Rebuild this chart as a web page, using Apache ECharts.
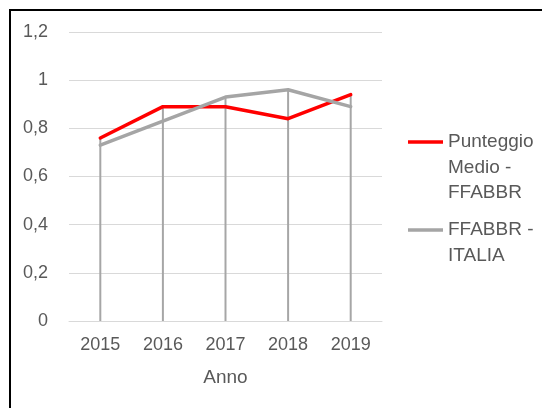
<!DOCTYPE html>
<html>
<head>
<meta charset="utf-8">
<script src="https://cdn.jsdelivr.net/npm/echarts@6/dist/echarts.min.js"></script>
<style>
html,body{margin:0;padding:0;background:#fff;}
#chart{width:542px;height:408px;}
</style>
</head>
<body>
<div id="chart"></div>
<script>
const categories = ['2015', '2016', '2017', '2018', '2019'];
const seriesNames = ['Punteggio\nMedio -\nFFABBR', 'FFABBR -\nITALIA'];
const puntoMedio = [0.76, 0.89, 0.89, 0.84, 0.94];
const italia = [0.73, 0.83, 0.93, 0.96, 0.89];
const yTickLabels = ['0', '0,2', '0,4', '0,6', '0,8', '1', '1,2'];

const dropLines = categories.map((c, i) => Math.max(puntoMedio[i], italia[i]));

const FONT = 'Liberation Sans';
const TXT = '#595959';

// put the legend icon level with the first text line
const topAlign = (name) => '\n'.repeat(name.split('\n').length - 1) + name;

const chart = echarts.init(document.getElementById('chart'), null, {renderer: 'canvas'});
chart.setOption({
  animation: false,
  backgroundColor: '#fff',
  textStyle: {fontFamily: FONT},
  grid: {left: 69, right: 160, top: 32, bottom: 87, containLabel: false},
  graphic: [{
    type: 'rect', silent: true,
    shape: {x: 10, y: 10, width: 700, height: 600},
    style: {fill: 'none', stroke: '#000', lineWidth: 2}
  }],
  legend: [{
    data: [seriesNames[0]], formatter: topAlign,
    orient: 'vertical', left: 408, top: 78.25, padding: 0,
    itemWidth: 35, itemHeight: 3.5, icon: 'rect',
    textStyle: {fontFamily: FONT, fontSize: 19, color: TXT, lineHeight: 25.5}
  }, {
    data: [seriesNames[1]], formatter: topAlign,
    orient: 'vertical', left: 408, top: 191.75, padding: 0,
    itemWidth: 35, itemHeight: 3.5, icon: 'rect',
    textStyle: {fontFamily: FONT, fontSize: 19, color: TXT, lineHeight: 25.5}
  }],
  xAxis: {
    type: 'category', data: categories, boundaryGap: true,
    name: 'Anno', nameLocation: 'middle', nameGap: 47,
    nameTextStyle: {fontFamily: FONT, fontSize: 19, color: TXT},
    axisLine: {show: true, lineStyle: {color: '#d9d9d9', width: 1}},
    axisTick: {show: false},
    axisLabel: {fontFamily: FONT, fontSize: 18, color: TXT, margin: 15}
  },
  yAxis: {
    type: 'value', min: 0, max: 1.2, interval: 0.2,
    axisLine: {show: false}, axisTick: {show: false},
    splitLine: {lineStyle: {color: '#d9d9d9', width: 1}},
    axisLabel: {
      fontFamily: FONT, fontSize: 18, color: TXT, margin: 21,
      formatter: (v) => yTickLabels[Math.round(v / 0.2)]
    }
  },
  series: [{
    name: 'drop', type: 'bar', data: dropLines, barWidth: 2, silent: true,
    itemStyle: {color: '#a6a6a6'}, z: 1, legendHoverLink: false
  }, {
    name: seriesNames[0], type: 'line', data: puntoMedio, symbol: 'none',
    lineStyle: {color: '#ff0000', width: 3.5, cap: 'round', join: 'round'},
    itemStyle: {color: '#ff0000'}, z: 3
  }, {
    name: seriesNames[1], type: 'line', data: italia, symbol: 'none',
    lineStyle: {color: '#a5a5a5', width: 3.5, cap: 'round', join: 'round'},
    itemStyle: {color: '#a5a5a5'}, z: 4
  }]
});
</script>
</body>
</html>
